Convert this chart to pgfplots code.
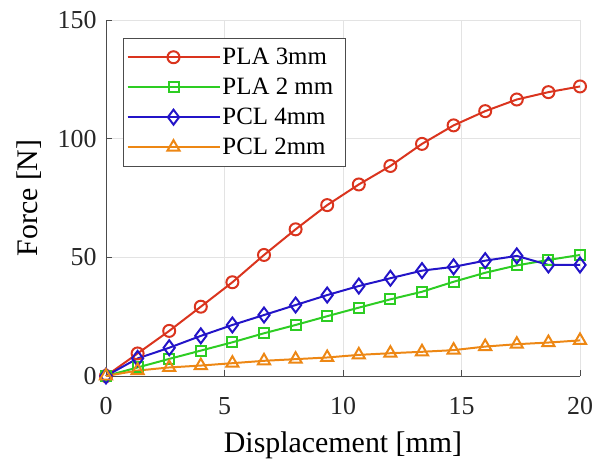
\documentclass[border=0pt]{standalone}
\usepackage{fontspec}
\setmainfont{Liberation Serif}
\usepackage{pgfplots}
\pgfplotsset{compat=1.18}

\definecolor{cred}{RGB}{218,52,30}
\definecolor{cgreen}{RGB}{45,205,35}
\definecolor{cblue}{RGB}{35,20,200}
\definecolor{corange}{RGB}{237,135,20}

\begin{document}
\begin{tikzpicture}
\useasboundingbox (-106bp,-83bp) rectangle (487bp,376bp);
\begin{axis}[
    at={(0,0)}, anchor=south west,
    scale only axis,
    width=474bp, height=356bp,
    xmin=0, xmax=20, ymin=0, ymax=150,
    xtick={0,5,10,15,20}, ytick={0,50,100,150},
    axis x line*=bottom, axis y line*=left,
    axis line style={black!70, line width=0.9pt, -},
    tick align=inside,
    major tick length=6bp,
    tick style={black!70, line width=0.9pt},
    grid=major,
    grid style={gray!22, line width=0.9pt},
    xlabel={Displacement [mm]},
    ylabel={Force [N]},
    label style={font=\fontsize{30}{33}\selectfont},
    tick label style={font=\fontsize{26}{29}\selectfont, text=black!85},
    xticklabel style={yshift=-18bp},
    yticklabel style={xshift=-6bp},
    /pgf/number format/assume math mode=true,
    xlabel style={at={(axis description cs:0.5,0)}, anchor=base, yshift=-76bp},
    ylabel style={at={(axis description cs:0,0.5)}, anchor=base, yshift=68bp},
    clip=false,
    legend style={at={(0.036,0.95)}, anchor=north west,
        font=\fontsize{25}{28}\selectfont, draw=black!70, line width=0.9pt,
        row sep=8bp, inner xsep=3bp, inner ysep=8bp},
    legend cell align=left,
    legend image code/.code={
        \draw[mark repeat=2, mark phase=2, #1]
            plot coordinates {(0bp,0bp) (46bp,0bp) (92bp,0bp)};
    },
    every axis plot/.append style={line width=2pt,
        mark options={solid, line width=2pt, fill=white}},
]
\addplot[cred, mark=o, mark size=6bp] coordinates {
(0,0) (1.333,9.5) (2.667,19) (4,29.2) (5.333,39.5) (6.667,51) (8,61.8)
(9.333,72) (10.667,80.7) (12,88.5) (13.333,97.8) (14.667,105.6)
(16,111.6) (17.333,116.5) (18.667,119.6) (20,122)};
\addlegendentry{PLA 3mm}
\addplot[cgreen, mark=square, mark size=5bp] coordinates {
(0,0) (1.333,3.6) (2.667,7.2) (4,10.7) (5.333,14.2) (6.667,18) (8,21.5)
(9.333,25.2) (10.667,28.8) (12,32.3) (13.333,35.5) (14.667,39.7)
(16,43.5) (17.333,46.6) (18.667,48.9) (20,51)};
\addlegendentry{PLA 2 mm\hspace*{7bp}}
\addplot[cblue, mark=diamond, mark size=7.5bp] coordinates {
(0,0) (1.333,7.4) (2.667,11.9) (4,16.9) (5.333,21.5) (6.667,25.7) (8,29.9)
(9.333,34.1) (10.667,37.9) (12,41.2) (13.333,44.4) (14.667,46)
(16,48.6) (17.333,50.6) (18.667,46.8) (20,46.8)};
\addlegendentry{PCL 4mm}
\addplot[corange, mark=triangle, mark size=7bp] coordinates {
(0,0) (1.333,2.3) (2.667,3.6) (4,4.4) (5.333,5.4) (6.667,6.4) (8,7.1)
(9.333,7.8) (10.667,8.9) (12,9.6) (13.333,10.2) (14.667,10.9)
(16,12.4) (17.333,13.4) (18.667,14.1) (20,15)};
\addlegendentry{PCL 2mm}
\end{axis}
\end{tikzpicture}
\end{document}
